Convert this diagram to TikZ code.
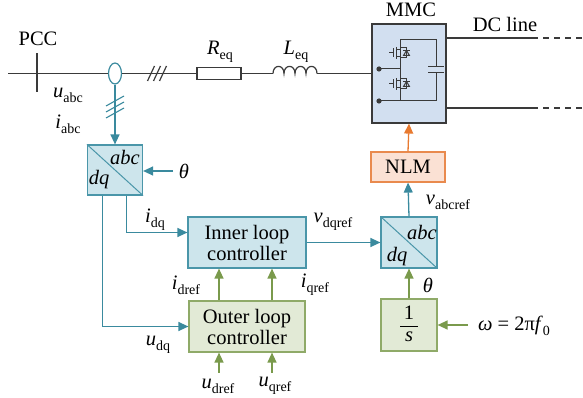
\documentclass[tikz,border=0pt]{standalone}
\usepackage{fontspec}
\setmainfont{Liberation Serif}
\usetikzlibrary{arrows.meta,shapes.geometric,calc}
\definecolor{tealline}{HTML}{3A8A9E}
\definecolor{tealfill}{HTML}{CDE5EC}
\definecolor{tealdraw}{HTML}{4A96A9}
\definecolor{grnline}{HTML}{7A9A4C}
\definecolor{grnfill}{HTML}{E2EAD6}
\definecolor{grndraw}{HTML}{8FAA68}
\definecolor{orgline}{HTML}{E87A30}
\definecolor{orgfill}{HTML}{FBE1D4}
\definecolor{orgdraw}{HTML}{E98A4E}
\definecolor{mmcfill}{HTML}{D2DFF0}
\definecolor{wire}{HTML}{3A3A3A}
\newcommand{\sbs}[2]{#1\raisebox{-5pt}{\fontsize{14}{14}\selectfont #2}}
\begin{document}
\begin{tikzpicture}[x=1pt,y=-1pt,font=\fontsize{20.5}{21}\selectfont,
  tip/.style={-{Triangle[length=10pt,width=9pt]}},
  tarrow/.style={draw=tealline,line width=1.3pt,tip},
  garrow/.style={draw=grnline,line width=1.3pt,tip},
  oarrow/.style={draw=orgline,line width=1.3pt,tip},
  tline/.style={draw=tealline,line width=1.3pt},
  wireline/.style={draw=wire,line width=1.2pt},
  tbox/.style={draw=tealdraw,fill=tealfill,line width=1.2pt,inner sep=0pt,align=center},
  gbox/.style={draw=grndraw,fill=grnfill,line width=1.2pt,inner sep=0pt,align=center},
  obox/.style={draw=orgdraw,fill=orgfill,line width=1.2pt,inner sep=0pt,align=center},
  lbl/.style={inner sep=1pt},
  sw/.style={draw=wire,line width=1pt},
  igbt/.pic={
    \draw[sw] (-4,-6) -- (-4,6);
    \draw[sw] (-6.5,-4.5) -- (-6.5,4.5);
    \draw[sw] (-11,0) -- (-6.5,0);
    \draw[sw] (-4,-3.5) -- (0,-3.5);
    \draw[sw] (-4,3.5) -- (0,3.5);
    \draw[sw] (0,-5) -- (6.5,-5) -- (6.5,5) -- (0,5);
    \draw[sw] (3,-2.5) -- (10,-2.5);
    \draw[sw] (3.5,2.5) -- (9.5,2.5) -- (6.5,-2.5) -- cycle;
  }]
\useasboundingbox (0,0) rectangle (583,398);

% ---------- power circuit ----------
\coordinate (start) at (8,73.5);
\coordinate (pcc) at (37,73.5);
\node[ellipse,draw=tealline,fill=white,line width=1.2pt,minimum width=13pt,minimum height=21pt,inner sep=0pt] (ct) at (115,73.5) {};
\node[draw=wire,fill=white,line width=1.1pt,minimum width=44pt,minimum height=12pt,inner sep=0pt] (req) at (219,73.5) {};
\coordinate (ls) at (273,73.5);
\coordinate (le) at (317,73.5);
\node[draw=wire,fill=mmcfill,line width=1.2pt,minimum width=74pt,minimum height=99pt,inner sep=0pt] (mmc) at (409,73.5) {};

\draw[wireline] (start) -- (ct.west);
\draw[wireline] (ct.east) -- (req.west);
\draw[wireline] (req.east) -- (ls);
\draw[wireline] (ls) .. controls (273,64) and (284,64) .. (284,73.5)
  .. controls (284,64) and (295,64) .. (295,73.5)
  .. controls (295,64) and (306,64) .. (306,73.5)
  .. controls (306,64) and (317,64) .. (le);
\draw[wireline] (le) -- (mmc.west |- le);
\draw[wireline] ($(pcc)+(0,-20)$) -- ($(pcc)+(0,19)$);
\foreach \xx in {151,157,163}
  \draw[wireline] (\xx-3.5,81) -- (\xx+3.5,66);

% MMC interior
\draw[wireline,line width=1pt] (400,40) -- (436,40) -- (436,67);
\draw[wireline,line width=1pt] (428,67) -- (444,67);
\draw[wireline,line width=1pt] (428,73) -- (444,73);
\draw[wireline,line width=1pt] (436,73) -- (436,101) -- (379,101);
\draw[wireline,line width=1pt] (379,69) -- (400,69);
\draw[wireline,line width=1pt] (400,40) -- (400,101);
\fill[wire] (379,69) circle (2.6pt);
\fill[wire] (379,101) circle (2.6pt);
\pic at (400,53) {igbt};
\pic at (400,84) {igbt};

% DC lines
\coordinate (d1) at (532,38);
\coordinate (d1e) at (583,38);
\coordinate (d2) at (532,108);
\coordinate (d2e) at (583,108);
\draw[wireline] (mmc.east |- d1) -- (d1);
\draw[wireline,dash pattern=on 6pt off 5pt] (d1) -- (d1e);
\draw[wireline] (mmc.east |- d2) -- (d2);
\draw[wireline,dash pattern=on 6pt off 5pt] (d2) -- (d2e);

% labels on power circuit
\node[lbl] (pcclbl) at (38,39) {PCC};
\node[lbl] (rlbl) at (220,52) {\sbs{\textit{R}}{eq}};
\node[lbl] (llbl) at (296,52) {\sbs{\textit{L}}{eq}};
\node[lbl] (mmclbl) at (411,10) {MMC};
\node[lbl] (dclbl) at (505,24) {DC line};
\node[lbl] (uabc) at (68,95) {\sbs{\textit{u}}{abc}};
\node[lbl] (iabc) at (68,124) {\sbs{\textit{i}}{abc}};

% ---------- control blocks ----------
\node[tbox,minimum width=55pt,minimum height=50pt] (t1) at (115,170) {};
\draw[draw=tealdraw,line width=1pt] (t1.north west) -- (t1.south east);
\node[lbl] (t1abc) at (125,157) {\textit{abc}};
\node[lbl] (t1dq) at (99,180) {\textit{dq}};

\node[tbox,minimum width=118pt,minimum height=51pt] (inner) at (247,242.5) {Inner loop\\controller};
\node[gbox,minimum width=116pt,minimum height=51pt] (outer) at (247,326.5) {Outer loop\\controller};

\node[tbox,minimum width=56pt,minimum height=51pt] (t2) at (409,242.5) {};
\draw[draw=tealdraw,line width=1pt] (t2.north west) -- (t2.south east);
\node[lbl] (t2abc) at (422,232) {\textit{abc}};
\node[lbl] (t2dq) at (397,257) {\textit{dq}};

\node[obox,minimum width=74pt,minimum height=30pt] (nlm) at (408,167) {NLM};
\node[gbox,minimum width=56pt,minimum height=52pt] (fr) at (409,325) {};
\node[lbl] (one) at (409,313) {1};
\draw[draw=black,line width=0.9pt] (400,326) -- (418,326);
\node[lbl] (sv) at (409,337) {\textit{s}};

% ---------- connectors ----------
\draw[tarrow] (ct.south) -- (t1.north);
\foreach \yy in {101,107,113}
  \draw[tline,line width=1.1pt] (106,\yy+5) -- (124,\yy-5);

\coordinate (th1) at (173,171);
\draw[tarrow] (th1) -- (t1.east |- th1);
\node[lbl] (th1lbl) at (184,171) {\textit{θ}};

\coordinate (o1) at ($(t1.south)+(-12.5,0)$);
\coordinate (o2) at ($(t1.south)+(11.5,0)$);
\coordinate (inin) at ($(inner.west)+(0,-10)$);
\draw[tarrow] (o2) |- (inin);
\draw[tarrow] (o1) |- (outer.west);
\node[lbl] (idq) at (155,220) {\sbs{\textit{i}}{dq}};
\node[lbl] (udq) at (158,345) {\sbs{\textit{u}}{dq}};

\draw[garrow] ($(outer.north)+(-28,0)$) -- ($(inner.south)+(-28,0)$);
\draw[garrow] ($(outer.north)+(25,0)$) -- ($(inner.south)+(25,0)$);
\node[lbl] (idref) at (186,285) {\sbs{\textit{i}}{dref}};
\node[lbl] (iqref) at (315,285) {\sbs{\textit{i}}{qref}};

\coordinate (udin) at ($(outer.south)+(-28,20)$);
\coordinate (uqin) at ($(outer.south)+(25,20)$);
\draw[garrow] (udin) -- ($(outer.south)+(-28,0)$);
\draw[garrow] (uqin) -- ($(outer.south)+(25,0)$);
\node[lbl] (udref) at (218,386) {\sbs{\textit{u}}{dref}};
\node[lbl] (uqref) at (275,386) {\sbs{\textit{u}}{qref}};

\draw[tarrow] (inner.east) -- (t2.west);
\node[lbl] (vdq) at (333,222) {\sbs{\textit{v}}{dqref}};

\draw[tarrow] (t2.north) -- (nlm.south);
\node[lbl] (vabc) at (448,202) {\sbs{\textit{v}}{abcref}};
\draw[oarrow] (nlm.north) -- (mmc.south);

\draw[garrow] (fr.north) -- (t2.south);
\node[lbl] (th2lbl) at (428,285) {\textit{θ}};
\coordinate (om) at (468,325);
\draw[garrow] (om) -- (fr.east);
\node[lbl] (omlbl) at (514,326) {\textit{ω} = 2π\sbs{\textit{f}}{0}};
\end{tikzpicture}
\end{document}
